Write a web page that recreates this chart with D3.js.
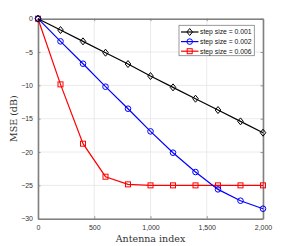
<!DOCTYPE html>
<html>
<head>
<meta charset="utf-8">
<script src="https://cdn.jsdelivr.net/npm/d3@7"></script>
<style>
  body { margin: 0; background: #fff; }
  svg { display: block; }
</style>
</head>
<body>
<div class="chart"></div>
<script>
var antennaIdx = [0, 200, 400, 600, 800, 1000, 1200, 1400, 1600, 1800, 2000];
var mse001 = [0, -1.7, -3.4, -5.1, -6.8, -8.6, -10.3, -12.0, -13.7, -15.4, -17.1];
var mse002 = [0, -3.4, -6.75, -10.2, -13.5, -16.9, -20.1, -23.0, -25.6, -27.3, -28.5];
var mse006 = [0, -9.85, -18.75, -23.7, -24.85, -25.0, -25.0, -25.0, -25.0, -25.0, -25.0];
var xTicks = [0, 500, 1000, 1500, 2000];
var yTicks = [0, -5, -10, -15, -20, -25, -30];
var seriesNames = ["step size = 0.001", "step size = 0.002", "step size = 0.006"];

var series = [
    {name: seriesNames[0], values: mse001, color: "#000000", marker: "diamond"},
    {name: seriesNames[1], values: mse002, color: "#0000ff", marker: "circle"},
    {name: seriesNames[2], values: mse006, color: "#ff0000", marker: "square"}
];

var W = 291, H = 246;
var margin = {top: 18.7, right: 28, bottom: 27.3, left: 38};
var width = W - margin.left - margin.right,
    height = H - margin.top - margin.bottom;

var svg = d3.select(".chart").append("svg")
    .attr("width", W)
    .attr("height", H);

var g = svg.append("g")
    .attr("transform", "translate(" + margin.left + "," + margin.top + ")");

var x = d3.scaleLinear().domain([0, 2000]).range([0, width]);
var y = d3.scaleLinear().domain([-30, 0]).range([height, 0]);

// grid
g.append("g").selectAll("line.gx")
    .data(xTicks).enter().append("line")
    .attr("x1", function (d) { return x(d); })
    .attr("x2", function (d) { return x(d); })
    .attr("y1", 0).attr("y2", height)
    .style("stroke", "#e6e6e6").style("stroke-width", 0.8);
g.append("g").selectAll("line.gy")
    .data(yTicks).enter().append("line")
    .attr("y1", function (d) { return y(d); })
    .attr("y2", function (d) { return y(d); })
    .attr("x1", 0).attr("x2", width)
    .style("stroke", "#e6e6e6").style("stroke-width", 0.8);

// axes
var xAxis = d3.axisBottom(x).tickValues(xTicks).tickSizeInner(-2.5).tickSizeOuter(0).tickPadding(6);
var yAxis = d3.axisLeft(y).tickValues(yTicks).tickSizeInner(-2.5).tickSizeOuter(0).tickPadding(5);
var xTop = d3.axisTop(x).tickValues(xTicks).tickSizeInner(-2.5).tickSizeOuter(0).tickFormat("");
var yRight = d3.axisRight(y).tickValues(yTicks).tickSizeInner(-2.5).tickSizeOuter(0).tickFormat("");

var x_g = g.append("g").attr("transform", "translate(0," + height + ")").call(xAxis);
var y_g = g.append("g").call(yAxis);
g.append("g").call(xTop);
g.append("g").attr("transform", "translate(" + width + ",0)").call(yRight);

g.selectAll(".domain").style("stroke", "#808080").style("stroke-width", 1.6);
g.selectAll(".tick line").style("stroke", "#808080").style("stroke-width", 0.8);
g.selectAll(".tick text")
    .style("font-family", "Liberation Sans, Arial, sans-serif")
    .style("font-size", "7px")
    .style("fill", "#333");

// lines
var line = d3.line()
    .x(function (d, i) { return x(antennaIdx[i]); })
    .y(function (d) { return y(d); });

function drawMarker(sel, type, color, cx, cy) {
    if (type === "diamond") {
        sel.append("path")
            .attr("d", "M" + cx + "," + (cy - 3.5) + "L" + (cx + 2.8) + "," + cy + "L" + cx + "," + (cy + 3.5) + "L" + (cx - 2.8) + "," + cy + "Z")
            .style("fill", "none").style("stroke", color).style("stroke-width", 1);
    } else if (type === "circle") {
        sel.append("circle").attr("cx", cx).attr("cy", cy).attr("r", 2.8)
            .style("fill", "none").style("stroke", color).style("stroke-width", 1);
    } else {
        sel.append("rect").attr("x", cx - 2.5).attr("y", cy - 2.5).attr("width", 5).attr("height", 5)
            .style("fill", "none").style("stroke", color).style("stroke-width", 1);
    }
}

series.slice().reverse().forEach(function (s) {
    g.append("path")
        .datum(s.values)
        .attr("d", line)
        .style("fill", "none")
        .style("stroke", s.color)
        .style("stroke-width", 1.2);
    var mg = g.append("g");
    s.values.forEach(function (v, i) {
        drawMarker(mg, s.marker, s.color, x(antennaIdx[i]), y(v));
    });
});

// axis labels
svg.append("text")
    .attr("x", margin.left + width / 2)
    .attr("y", 242)
    .attr("text-anchor", "middle")
    .style("font-family", "DejaVu Serif, serif")
    .style("font-size", "9.5px")
    .style("fill", "#333")
    .text("Antenna index");

svg.append("text")
    .attr("transform", "translate(17," + (margin.top + height / 2) + ") rotate(-90)")
    .attr("text-anchor", "middle")
    .style("font-family", "DejaVu Serif, serif")
    .style("font-size", "9.5px")
    .style("fill", "#333")
    .text("MSE (dB)");

// legend
var lg = svg.append("g").attr("transform", "translate(179,25.3)");
lg.append("rect").attr("width", 75.3).attr("height", 30.4)
    .style("fill", "#fff").style("stroke", "#808080").style("stroke-width", 0.8);
series.forEach(function (s, i) {
    var ly = 6.7 + i * 9.6;
    lg.append("line").attr("x1", 2).attr("x2", 19.5).attr("y1", ly).attr("y2", ly)
        .style("stroke", s.color).style("stroke-width", 1.2);
    drawMarker(lg, s.marker, s.color, 10.7, ly);
    lg.append("text").attr("x", 21).attr("y", ly + 2.4)
        .style("font-family", "Liberation Sans, Arial, sans-serif")
        .style("font-size", "6.8px")
        .style("fill", "#111")
        .text(s.name);
});
</script>
</body>
</html>
